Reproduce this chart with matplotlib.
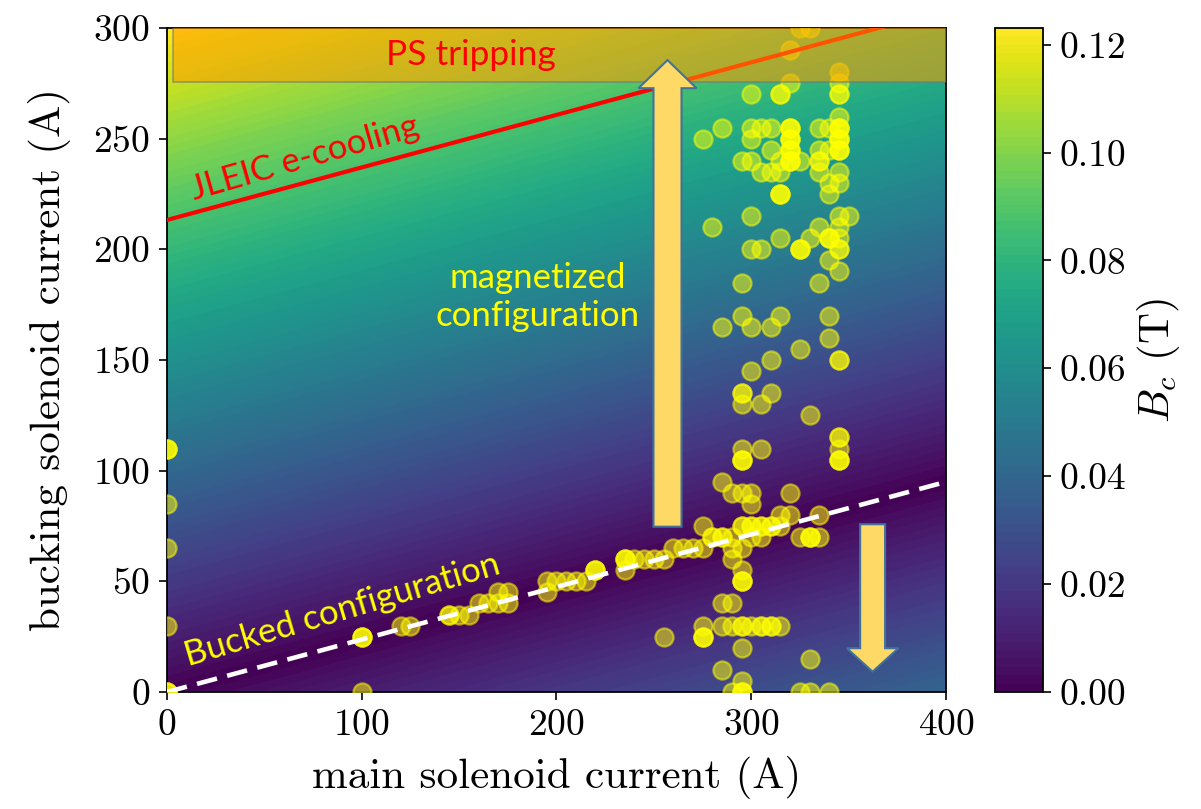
import numpy as np
import matplotlib.pyplot as plt
from matplotlib.patches import Rectangle, FancyArrow

plt.rcParams['font.family'] = 'serif'
plt.rcParams['font.serif'] = ['cmr10']
plt.rcParams['mathtext.fontset'] = 'cm'
plt.rcParams['axes.formatter.use_mathtext'] = True

# field at the cathode: B_c = |k_main * I_main - k_buck * I_buck|  (T/A)
k_buck = 0.0004103
k_main = 0.0000974
B_jleic = 0.0875  # JLEIC e-cooling operating field (T)

# measured settings (main solenoid current, bucking solenoid current, number of shots)
main_I = [0, 0, 0, 0, 0,
          100, 100, 120, 125, 145, 150, 155, 160, 165, 170, 175, 170, 175,
          195, 195, 200, 205, 210, 215, 220, 235, 235, 240, 245, 250, 255,
          260, 265, 270, 275, 255,
          275, 280, 285, 290, 295, 300, 305, 310, 315, 300, 305,
          315, 320, 335, 325, 330, 335,
          290, 295, 290, 295, 295, 285, 290, 275, 275,
          285, 290, 295, 300, 305, 310, 315, 295, 330, 285, 295,
          290, 295, 325, 330, 340,
          285, 290, 295, 300, 320, 300, 295, 305, 295,
          345, 345, 345, 330, 295, 295, 305, 310, 300, 310, 345,
          325, 340, 285, 300, 310, 295, 315, 340, 295, 335, 345, 340,
          300, 305, 325, 345, 315, 330, 340, 345, 280, 335, 345,
          300, 345, 350, 315, 340, 340, 345,
          305, 310, 315, 335, 345, 295, 300, 315, 325, 335, 320,
          310, 320, 335, 340, 345, 275, 300, 320, 345,
          285, 300, 305, 310, 320, 335, 340, 345, 345,
          300, 315, 345, 345, 320, 345, 320, 325, 330]
buck_I = [110, 85, 65, 30, 0,
          25, 0, 30, 30, 35, 35, 35, 40, 40, 40, 40, 45, 45,
          45, 50, 50, 50, 50, 50, 55, 55, 60, 60, 60, 60, 60,
          65, 65, 65, 65, 25,
          75, 70, 70, 70, 75, 75, 75, 75, 75, 70, 70,
          80, 80, 80, 70, 70, 70,
          65, 65, 60, 55, 50, 40, 40, 30, 25,
          30, 30, 30, 30, 30, 30, 30, 20, 15, 10, 5,
          0, 0, 0, 0, 0,
          95, 90, 90, 90, 90, 85, 110, 110, 105,
          115, 110, 105, 125, 135, 130, 130, 135, 145, 150, 150,
          155, 160, 165, 165, 165, 170, 170, 170, 185, 185, 190, 195,
          200, 200, 200, 200, 205, 205, 205, 205, 210, 210, 210,
          215, 215, 215, 225, 225, 230, 230,
          235, 235, 235, 235, 235, 240, 240, 240, 240, 240, 240,
          245, 245, 245, 245, 245, 250, 250, 250, 250,
          255, 255, 255, 255, 255, 255, 255, 255, 260,
          270, 270, 270, 275, 275, 280, 290, 300, 300]
shots = [3, 1, 1, 1, 3,
         3, 1, 1, 1, 2, 1, 1, 1, 1, 1, 1, 1, 1,
         1, 1, 1, 1, 1, 1, 3, 1, 3, 1, 1, 1, 1,
         1, 1, 1, 1, 1,
         1, 2, 2, 1, 2, 2, 2, 2, 1, 1, 1,
         1, 1, 1, 1, 3, 1,
         1, 1, 1, 1, 3, 1, 1, 1, 3,
         1, 1, 2, 1, 2, 2, 1, 1, 1, 1, 1,
         1, 3, 1, 1, 1,
         1, 1, 1, 1, 1, 1, 1, 1, 3,
         2, 1, 3, 1, 2, 1, 1, 1, 1, 1, 2,
         1, 1, 1, 1, 1, 1, 1, 1, 1, 1, 1, 1,
         1, 1, 3, 2, 1, 1, 3, 1, 1, 1, 1,
         1, 1, 1, 3, 1, 1, 1,
         1, 1, 1, 1, 1, 1, 1, 1, 1, 2, 3,
         1, 3, 1, 1, 3, 1, 1, 3, 3,
         1, 1, 1, 1, 3, 1, 1, 3, 1,
         1, 2, 2, 1, 1, 1, 1, 1, 1]

x_pts = np.repeat(main_I, shots)
y_pts = np.repeat(buck_I, shots)

# field map
mi = np.linspace(0, 400, 401)
bi = np.linspace(0, 300, 301)
M, K = np.meshgrid(mi, bi)
Bc = np.abs(k_main * M - k_buck * K)

fig = plt.figure(figsize=(12.01, 8.09), dpi=100)
ax = fig.add_axes([0.139, 0.1446, 0.6487, 0.8208])
cax = fig.add_axes([0.8285, 0.1446, 0.04, 0.8208])

cs = ax.contourf(M, K, Bc, levels=np.linspace(0, Bc.max(), 80), cmap='viridis', zorder=0)

ax.scatter(x_pts, y_pts, s=170, color='yellow', alpha=0.52, linewidths=1.6, zorder=3)

# zero-field (bucked) line and JLEIC iso-field line
ax.plot(mi, mi * k_main / k_buck, color='white', lw=3.3, dashes=(4.5, 2.3), zorder=4)
ax.plot(mi, (k_main * mi + B_jleic) / k_buck, color='red', lw=3, zorder=4)

# power supply trip region
ax.add_patch(Rectangle((3, 275.5), 400, 30, facecolor=(1.0, 0.6, 0.0, 0.55),
                       edgecolor=(0.45, 0.45, 0.45, 0.6), lw=1.2, zorder=5))

ax.add_patch(FancyArrow(257, 74.7, 0, 198.1, width=14.4, head_width=29.8, head_length=12.7,
                        length_includes_head=False, facecolor='#FFD966', edgecolor='#41719C',
                        lw=1.5, zorder=6))
ax.add_patch(FancyArrow(362.3, 75.8, 0, -56.0, width=12.8, head_width=26.5, head_length=10.6,
                        length_includes_head=False, facecolor='#FFD966', edgecolor='#41719C',
                        lw=1.5, zorder=6))

ax.text(156, 288, 'PS tripping', color='red', fontsize=25.5, family='Lato',
        ha='center', va='center', zorder=7)
ax.text(71, 241, 'JLEIC e-cooling', color='red', fontsize=25, family='Lato',
        ha='center', va='center', rotation=16, zorder=7)
ax.text(190.5, 178.5, 'magnetized\nconfiguration', color='yellow', fontsize=25, family='Lato',
        ha='center', va='center', linespacing=1.2, zorder=7)
ax.text(90, 37, 'Bucked configuration', color='yellow', fontsize=25, family='Lato',
        ha='center', va='center', rotation=16.5, zorder=7)

ax.set_xlim(0, 400)
ax.set_ylim(0, 300)
ax.set_xticks([0, 100, 200, 300, 400])
ax.set_yticks([0, 50, 100, 150, 200, 250, 300])
ax.tick_params(labelsize=27, length=6, width=1.2, pad=6)
ax.set_xlabel('main solenoid current (A)', fontsize=31, labelpad=10)
ax.set_ylabel('bucking solenoid current (A)', fontsize=31, labelpad=16)
for sp in ax.spines.values():
    sp.set_linewidth(1.3)

cb = fig.colorbar(cs, cax=cax, ticks=[0.0, 0.02, 0.04, 0.06, 0.08, 0.10, 0.12], format='%.2f')
cb.ax.tick_params(labelsize=27, length=6, width=1.2, pad=6)
cb.outline.set_linewidth(1.3)
cb.set_label(r'$B_c$ (T)', fontsize=31, labelpad=6)

fig.savefig('out.png', dpi=100)
